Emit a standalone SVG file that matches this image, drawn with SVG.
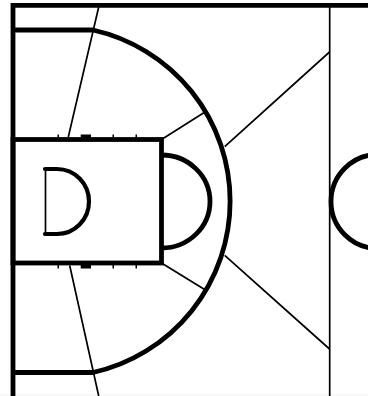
<svg xmlns="http://www.w3.org/2000/svg" width="368" height="396" viewBox="0 0 368 396">
<style>
.k{fill:none;stroke:#000;stroke-width:4.8}
.t{fill:none;stroke:#000;stroke-width:1.7}
.m{fill:none;stroke:#000;stroke-width:4.2;stroke-linecap:round}
.b{fill:#000;stroke:none}
</style>
<rect width="368" height="396" fill="#fff"/>
<rect y="394" width="368" height="2" fill="#f8f8f8"/>
<g id="lines">
<path class="k" d="M368 5.300H13V396"/>
<path class="k" d="M13 30H93A175.500 175.500 0 0 1 93 372.500H13"/>
<rect class="k" x="13" y="139.500" width="148.500" height="123.500"/>
<path class="k" d="M161.500 155A48.500 46.500 0 0 1 161.500 248"/>
<circle class="k" cx="378" cy="201.500" r="47"/>
<path class="m" d="M45 169H57A32 32.500 0 0 1 57 234H45"/>
<path class="t" d="M45.500 169V234"/>
<path class="t" d="M98.700 7L68.300 137M69.700 265.500L98.700 396M161.500 139.500L205 112M161.500 263L205 289.700M224.700 146.700L329.500 52M224.700 255.300L329.500 349"/>
<path class="t" d="M329.700 7V396"/>
<rect class="b" x="57.500" y="134.500" width="1.500" height="5"/>
<rect class="b" x="112.500" y="134.500" width="1.500" height="5"/>
<rect class="b" x="135.500" y="134.500" width="1.500" height="5"/>
<rect class="b" x="80.700" y="134.500" width="10.300" height="5"/>
<rect class="b" x="57.500" y="263" width="1.500" height="5.500"/>
<rect class="b" x="112.500" y="263" width="1.500" height="5.500"/>
<rect class="b" x="135.500" y="263" width="1.500" height="5.500"/>
<rect class="b" x="80.700" y="263" width="10.300" height="5.500"/>
</g>
</svg>
